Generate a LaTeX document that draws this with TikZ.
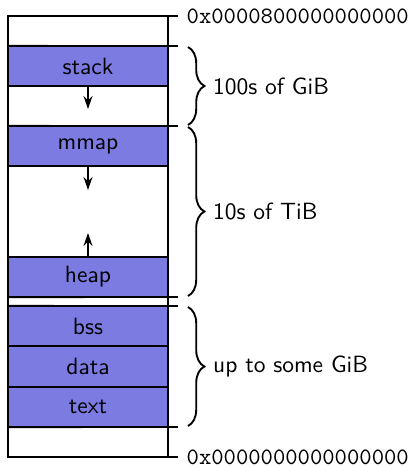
\documentclass[tikz,border=0pt]{standalone}
\usetikzlibrary{arrows.meta,decorations.pathreplacing}
\definecolor{segblue}{RGB}{123,123,226}
\begin{document}
\begin{tikzpicture}[x=0.4255pt,y=-0.4255pt,line width=0.8pt,
  seg/.style={draw, fill=segblue, minimum width=68.08pt, minimum height=17.1pt, inner sep=0pt, outer sep=0pt, font=\sffamily},
  growarrow/.style={-{Stealth[length=5.5pt,width=3.8pt,inset=1.8pt]}, line width=0.75pt},
  bracedeco/.style={decorate, decoration={brace, amplitude=7pt}},
  sizelabel/.style={right, font=\sffamily, inner sep=3.3pt},
  addrlabel/.style={right, font=\ttfamily, inner sep=3.3pt}]
\useasboundingbox (0,0) rectangle (414,466);
% outer box
\draw (8,16) rectangle (168,457);
% segments
\node[seg] (stack) at (88,66) {stack};
\node[seg] (mmap) at (88,146) {mmap};
\node[seg] (heap) at (88,277) {heap};
\node[seg] (bss) at (88,326) {bss};
\node[seg] (data) at (88,366.5) {data};
\node[seg] (text) at (88,407) {text};
% growth arrows
\coordinate (stackend) at (88,109);
\coordinate (mmapend) at (88,190);
\coordinate (heapend) at (88,233);
\draw[growarrow] (stack.south) -- (stackend);
\draw[growarrow] (mmap.south) -- (mmapend);
\draw[growarrow] (heap.north) -- (heapend);
% extension ticks
\coordinate (topL) at (8,16);   \coordinate (topR) at (178,16);
\coordinate (botL) at (8,457);  \coordinate (botR) at (178,457);
\draw (topL) -- (topR);
\draw (botL) -- (botR);
\coordinate (t1) at (178,46);  \draw (stack.north west) -- (t1);
\coordinate (t2) at (178,126); \draw (mmap.north west) -- (t2);
\coordinate (t3) at (178,297); \draw (heap.south west) -- (t3);
\coordinate (t4) at (178,306); \draw (bss.north west) -- (t4);
\coordinate (t5) at (178,427); \draw (text.south west) -- (t5);
% address labels
\node[addrlabel] (hi) at (topR) {0x0000800000000000};
\node[addrlabel] (lo) at (botR) {0x0000000000000000};
% braces
\coordinate (b1a) at (188,47);  \coordinate (b1b) at (188,125);
\coordinate (b2a) at (188,127); \coordinate (b2b) at (188,296);
\coordinate (b3a) at (188,307); \coordinate (b3b) at (188,426);
\draw[bracedeco] (b1a) -- (b1b) node[midway, xshift=7pt, sizelabel] (l1) {100s of GiB};
\draw[bracedeco] (b2a) -- (b2b) node[midway, xshift=7pt, sizelabel] (l2) {10s of TiB};
\draw[bracedeco] (b3a) -- (b3b) node[midway, xshift=7pt, sizelabel] (l3) {up to some GiB};
\end{tikzpicture}
\end{document}
